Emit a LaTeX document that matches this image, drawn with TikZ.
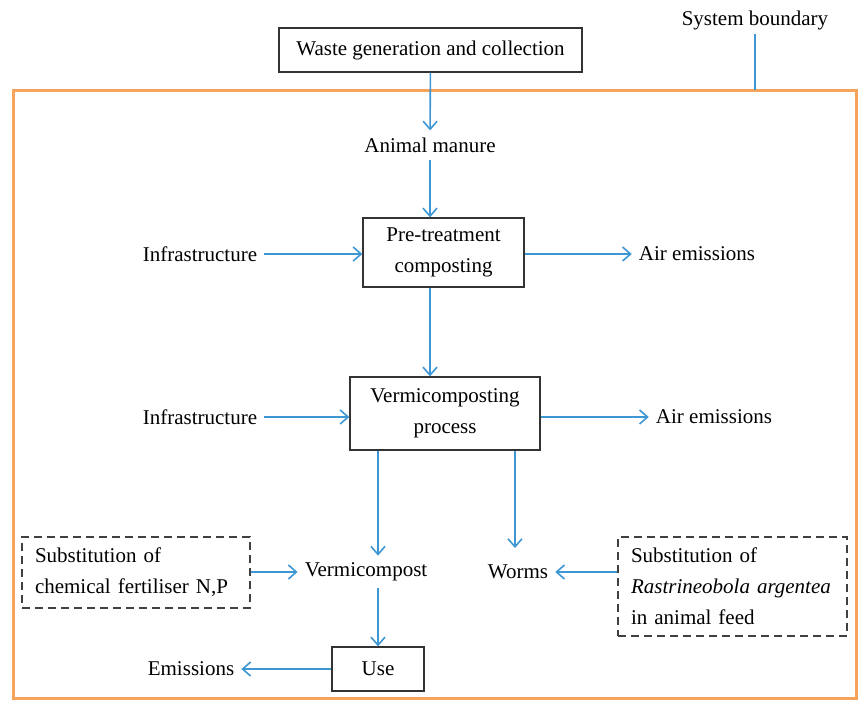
\documentclass[tikz,border=0pt]{standalone}
\usepackage{fontspec}
\setmainfont{Liberation Serif}
\usetikzlibrary{arrows.meta}
\definecolor{flowblue}{RGB}{62,150,210}
\definecolor{boundorange}{RGB}{246,163,92}
\begin{document}
\begin{tikzpicture}[x=1pt,y=-1pt,->,>={Straight Barb[length=8pt,width=14pt]},
			font=\fontsize{21}{31}\selectfont,
			box node/.style={rectangle,draw=black!80,line width=1.3pt,align=center,inner sep=0pt},
			dash node/.style={rectangle,draw=black!75,dash pattern=on 8pt off 5pt,line width=1.2pt,
				align=left,inner ysep=0pt,inner xsep=13pt,text width=#1},
			text node/.style={inner sep=7pt},
			flow/.style={flowblue,line width=1.6pt}]
			
			\useasboundingbox (0,0) rectangle (858,702);
			
			% system boundary
			\draw[-,boundorange,line width=3pt] (13,90) rectangle (856,698);
			\node[text node,inner sep=4pt] (Sys) at (755,20) {System boundary};
			\coordinate (SysEnd) at (755,90);
			\draw[-,flowblue,line width=1.3pt] (Sys.south) -- (SysEnd);
			
			\node[box node,minimum width=303pt,minimum height=44pt] (Waste) at (430.5,50) {Waste generation and collection};
			\node[text node] (Manure) at (430,145) {Animal manure};
			\node[box node,minimum width=161pt,minimum height=69pt] (Pre) at (443.5,252.5) {Pre-treatment\\composting};
			\node[text node] (InfraA) at (200,254) {Infrastructure};
			\node[text node] (AirA) at (697,254) {Air emissions};
			
			\node[box node,minimum width=190pt,minimum height=73pt] (Vermi) at (445,413.5) {Vermicomposting\\process};
			\node[text node] (InfraB) at (200,417) {Infrastructure};
			\node[text node] (AirB) at (714,417) {Air emissions};
			
			\node[text node] (Vcomp) at (366,572) {Vermicompost};
			\node[text node] (Worms) at (518,572) {Worms};
			\coordinate (WormsIn) at (515,548);
			\node[dash node=202pt,minimum height=71pt] (SubFert) at (136,572.5) {Substitution of\\chemical fertiliser N,P};
			\node[dash node=203pt,minimum height=99pt] (SubFeed) at (732.5,586.5) {Substitution of\\\textit{Rastrineobola argentea}\\in animal feed};
			
			\node[box node,minimum width=92pt,minimum height=44pt] (Use) at (378,669) {Use};
			\node[text node] (Emis) at (191,669) {Emissions};
			
			\path[flow]
			(Waste) edge (Manure)
			(Manure) edge (Manure |- Pre.north)
			(Pre.south -| Manure) edge (Vermi.north -| Manure)
			(InfraA) edge (InfraA -| Pre.west)
			(Pre.east |- AirA) edge (AirA)
			(InfraB) edge (InfraB -| Vermi.west)
			(Vermi.east |- AirB) edge (AirB)
			(Vermi.south -| Use) edge (Vcomp.north -| Use)
			(Vermi.south -| WormsIn) edge (WormsIn)
			(SubFert.east |- Vcomp) edge (Vcomp.west)
			(SubFeed.west |- Worms) edge (Worms.east)
			(Vcomp.south -| Use) edge (Use.north)
			(Use.west) edge (Emis.east);
\end{tikzpicture}
\end{document}
